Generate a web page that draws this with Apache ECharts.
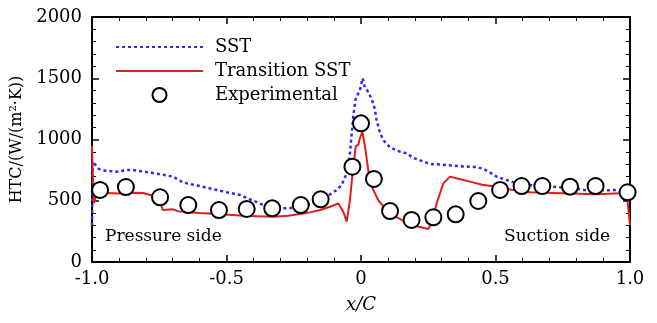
<!DOCTYPE html>
<html>
<head>
<meta charset="utf-8">
<script src="https://cdn.jsdelivr.net/npm/echarts@6/dist/echarts.min.js"></script>
<style>
  html, body { margin: 0; padding: 0; background: #fff; }
  #main { width: 657px; height: 323px; }
</style>
</head>
<body>
<div id="main"></div>
<script>
// SST (blue dotted)
var sstX = [-1.0, -0.997, -0.99, -0.975, -0.95, -0.908, -0.87, -0.847, -0.8, -0.773, -0.72, -0.699, -0.67, -0.648, -0.6, -0.536, -0.5, -0.45, -0.4, -0.363, -0.32, -0.289, -0.26, -0.227, -0.19, -0.152, -0.12, -0.09, -0.072, -0.053, -0.041, -0.029, -0.02, -0.004, 0.006, 0.015, 0.025, 0.04, 0.05, 0.058, 0.071, 0.085, 0.108, 0.14, 0.17, 0.194, 0.22, 0.257, 0.3, 0.38, 0.43, 0.455, 0.48, 0.504, 0.54, 0.579, 0.64, 0.727, 0.8, 0.851, 0.9, 0.95, 0.988, 1.0];
var sstY = [300, 820, 800, 760, 745, 737, 750, 751, 735, 726, 705, 697, 660, 642, 620, 588, 570, 547, 500, 465, 445, 438, 440, 455, 475, 506, 545, 588, 629, 724, 887, 1186, 1330, 1404, 1499, 1420, 1395, 1330, 1260, 1159, 1050, 990, 935, 905, 887, 850, 830, 800, 795, 780, 775, 760, 730, 697, 670, 642, 625, 612, 600, 580, 585, 588, 561, 540];

// Transition SST (red solid)
var trX = [-1.0, -0.997, -0.993, -0.985, -0.97, -0.9, -0.85, -0.81, -0.78, -0.75, -0.736, -0.7, -0.68, -0.648, -0.6, -0.536, -0.45, -0.413, -0.327, -0.27, -0.227, -0.19, -0.152, -0.115, -0.084, -0.066, -0.053, -0.041, -0.029, -0.019, -0.01, -0.004, 0.005, 0.015, 0.027, 0.04, 0.064, 0.089, 0.12, 0.15, 0.182, 0.22, 0.25, 0.265, 0.281, 0.306, 0.331, 0.37, 0.405, 0.45, 0.504, 0.56, 0.628, 0.752, 0.876, 0.963, 0.99, 1.0];
var trY = [950, 700, 480, 540, 565, 560, 565, 563, 545, 500, 424, 430, 415, 408, 400, 392, 380, 375, 370, 378, 392, 405, 424, 451, 478, 411, 329, 506, 778, 947, 955, 1010, 1064, 941, 751, 615, 506, 438, 380, 345, 302, 285, 269, 330, 478, 642, 697, 675, 656, 630, 615, 590, 569, 561, 553, 561, 520, 300];

// Experimental (circles)
var expX = [-0.97, -0.874, -0.747, -0.642, -0.528, -0.425, -0.33, -0.224, -0.15, -0.032, 0.0, 0.048, 0.108, 0.188, 0.269, 0.352, 0.436, 0.517, 0.597, 0.674, 0.777, 0.872, 0.991];
var expY = [588, 612, 528, 465, 424, 433, 438, 465, 512, 778, 1132, 678, 416, 343, 365, 389, 498, 588, 620, 620, 615, 620, 569];

var font = 'DejaVu Serif';

function zip(xs, ys) {
    return xs.map(function (x, i) { return [x, ys[i]]; });
}

var myChart = echarts.init(document.getElementById('main'));

function frameAxis(pos, min, max, interval, isX, showLabel) {
    return {
        type: 'value',
        position: pos,
        min: min,
        max: max,
        interval: interval,
        splitLine: { show: false },
        axisLine: { show: true, onZero: false, lineStyle: { color: '#000', width: 2 } },
        axisTick: { show: true, inside: true, length: 7, lineStyle: { color: '#000', width: 1.5 } },
        minorTick: { show: true, splitNumber: 5, length: 4, lineStyle: { color: '#000', width: 1 } },
        axisLabel: {
            show: showLabel,
            color: '#000',
            fontFamily: font,
            fontSize: 18,
            margin: isX ? 8 : 10,
            formatter: function (v) {
                if (!isX) return String(v);
                return v === 0 ? '0' : v.toFixed(1);
            }
        }
    };
}

var xMain = frameAxis('bottom', -1, 1, 0.5, true, true);
xMain.name = 'x/C';
xMain.nameLocation = 'middle';
xMain.nameGap = 34;
xMain.nameTextStyle = { fontFamily: font, fontSize: 18, fontStyle: 'italic', color: '#000' };

var yMain = frameAxis('left', 0, 2000, 500, false, true);
yMain.name = 'HTC/(W/(m²·K))';
yMain.nameLocation = 'middle';
yMain.nameGap = 58;
yMain.nameTextStyle = { fontFamily: font, fontSize: 16, color: '#000' };

var xTop = frameAxis('top', -1, 1, 0.5, true, false);
var yRight = frameAxis('right', 0, 2000, 500, false, false);

option = {
    animation: false,
    backgroundColor: '#fff',
    grid: { left: 92, right: 27, top: 17, bottom: 61 },
    xAxis: [xMain, xTop],
    yAxis: [yMain, yRight],
    legend: {
        orient: 'vertical',
        left: 110,
        top: 33,
        itemWidth: 87,
        itemHeight: 14,
        itemGap: 6,
        selectedMode: false,
        textStyle: { fontFamily: font, fontSize: 18, color: '#000', padding: [0, 0, 0, 7] },
        data: [
            { name: 'SST', itemStyle: { opacity: 0 } },
            { name: 'Transition SST', itemStyle: { opacity: 0 } },
            'Experimental'
        ]
    },
    graphic: [
        {
            type: 'text', left: 105, top: 228,
            style: { text: 'Pressure side', fontFamily: font, fontSize: 17, fill: '#000' }
        },
        {
            type: 'text', left: 504, top: 228,
            style: { text: 'Suction side', fontFamily: font, fontSize: 17, fill: '#000' }
        }
    ],
    series: [
        {
            name: 'SST',
            type: 'line',
            data: zip(sstX, sstY),
            symbol: 'none',
            lineStyle: { color: '#2a2af5', width: 2.5, type: [3, 3] },
            itemStyle: { color: '#2a2af5' },
            z: 2
        },
        {
            name: 'Transition SST',
            type: 'line',
            data: zip(trX, trY),
            symbol: 'none',
            lineStyle: { color: '#e01e1e', width: 2 },
            itemStyle: { color: '#e01e1e' },
            z: 3
        },
        {
            name: 'Experimental',
            type: 'scatter',
            data: zip(expX, expY),
            symbol: 'circle',
            symbolSize: 16,
            itemStyle: { color: '#fff', borderColor: '#000', borderWidth: 2, opacity: 1 },
            z: 5
        }
    ]
};
option && myChart.setOption(option);
</script>
</body>
</html>
